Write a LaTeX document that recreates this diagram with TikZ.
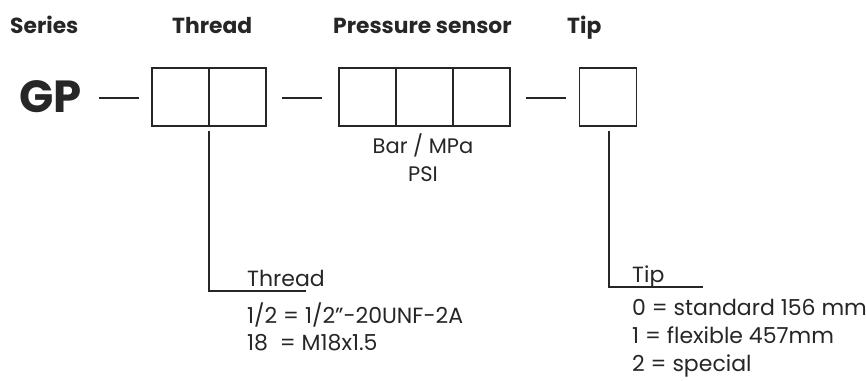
\documentclass[tikz,border=0pt]{standalone}
\usepackage{fontspec}
\setmainfont{Poppins}
\begin{document}
\begin{tikzpicture}[x=1pt,y=-1pt,
  cell/.style={draw=black!85,line width=1.1pt,minimum width=57pt,minimum height=58pt,inner sep=0pt},
  head/.style={font=\fontsize{21.8}{24}\selectfont\bfseries,anchor=base west,inner sep=0pt,text=black!85},
  body/.style={font=\fontsize{22}{24}\selectfont,anchor=base west,inner sep=0pt,text=black!85},
  unit/.style={font=\fontsize{21}{24}\selectfont,anchor=base,inner sep=0pt,text=black!85},
  ln/.style={line width=1.1pt,draw=black!85}]
\useasboundingbox (0,0) rectangle (866,380);
% headers
\node[head] (hs) at (10,33) {Series};
\node[head] (ht) at (172,33) {Thread};
\node[head] (hp) at (333,33) {Pressure sensor};
\node[head] (htip) at (567,33) {Tip};
% GP
\node[font=\fontsize{45}{50}\selectfont\bfseries,anchor=base west,inner sep=0pt,text=black!85] (gp) at (19,112) {GP};
% cells
\node[cell] (t1) at (180.5,97) {};
\node[cell] (t2) at (237.5,97) {};
\node[cell] (p1) at (367.5,97) {};
\node[cell] (p2) at (424.5,97) {};
\node[cell] (p3) at (481.5,97) {};
\node[cell] (tp) at (608,97) {};
% dashes
\coordinate (d1a) at (99,98); \coordinate (d1b) at (139,98);
\coordinate (d2a) at (282,98); \coordinate (d2b) at (322,98);
\coordinate (d3a) at (526,98); \coordinate (d3b) at (566,98);
\draw[ln] (d1a) -- (d1b);
\draw[ln] (d2a) -- (d2b);
\draw[ln] (d3a) -- (d3b);
% sensor units
\node[unit] (u1) at (423,153) {Bar / MPa};
\node[unit] (u2) at (423,181) {PSI};
% thread leader
\coordinate (ta) at (209,131);
\coordinate (tb) at (209,291);
\coordinate (tc) at (306,291);
\draw[ln] (ta) -- (tb) -- (tc);
\node[body] (tl) at (247,286) {Thread};
\node[body] (tl1) at (247,323) {1/2 = 1/2"-20UNF-2A};
\node[body] (tl2) at (247,350) {18\ \ = M18x1.5};
% tip leader
\coordinate (pa) at (609,131);
\coordinate (pb) at (609,287);
\coordinate (pc) at (703,287);
\draw[ln] (pa) -- (pb) -- (pc);
\node[body] (pl) at (632,282) {Tip};
\node[body] (pl1) at (632,315) {0 = standard 156 mm};
\node[body] (pl2) at (632,343) {1 = flexible 457mm};
\node[body] (pl3) at (632,371) {2 = special};
\end{tikzpicture}
\end{document}
